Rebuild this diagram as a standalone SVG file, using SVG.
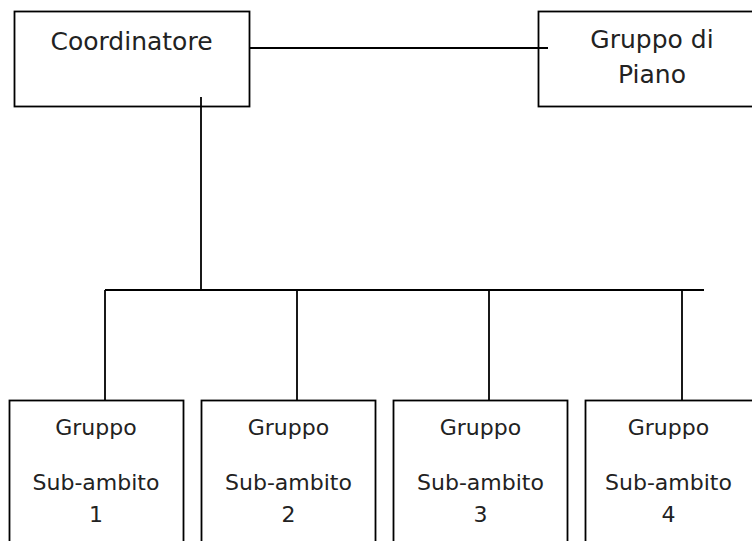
<svg xmlns="http://www.w3.org/2000/svg" width="752" height="541" viewBox="0 0 752 541">
<style>
.box{fill:#fff;stroke:#000;stroke-width:1.8}
.ln{fill:none;stroke:#000;stroke-width:1.8}
.t{font-family:"DejaVu Sans","Liberation Sans",sans-serif;fill:#222;text-anchor:middle}
.big{font-size:25px}
.sm{font-size:22px}
</style>
<rect width="752" height="541" fill="#fff"/>
<g id="coordinatore">
<rect class="box" x="14.5" y="11.5" width="235" height="95"/>
<text class="t big" x="131.5" y="50">Coordinatore</text>
</g>
<g id="gruppo-di-piano">
<rect class="box" x="538.5" y="11.5" width="220" height="95"/>
<text class="t big" x="652" y="48">Gruppo di</text>
<text class="t big" x="652" y="83">Piano</text>
</g>
<g id="sub1">
<rect class="box" x="9.5" y="400.5" width="174" height="160"/>
<text class="t sm" x="96" y="435">Gruppo</text>
<text class="t sm" x="96" y="490">Sub-ambito</text>
<text class="t sm" x="96" y="522">1</text>
</g>
<g id="sub2">
<rect class="box" x="201.5" y="400.5" width="174" height="160"/>
<text class="t sm" x="288.5" y="435">Gruppo</text>
<text class="t sm" x="288.5" y="490">Sub-ambito</text>
<text class="t sm" x="288.5" y="522">2</text>
</g>
<g id="sub3">
<rect class="box" x="393.5" y="400.5" width="174" height="160"/>
<text class="t sm" x="480.5" y="435">Gruppo</text>
<text class="t sm" x="480.5" y="490">Sub-ambito</text>
<text class="t sm" x="480.5" y="522">3</text>
</g>
<g id="sub4">
<rect class="box" x="585.5" y="400.5" width="180" height="160"/>
<text class="t sm" x="668.5" y="435">Gruppo</text>
<text class="t sm" x="668.5" y="490">Sub-ambito</text>
<text class="t sm" x="668.5" y="522">4</text>
</g>
<g id="connectors">
<line class="ln" x1="249" y1="48" x2="548" y2="48"/>
<line class="ln" x1="201" y1="97" x2="201" y2="290"/>
<line class="ln" x1="105" y1="290" x2="704" y2="290"/>
<line class="ln" x1="105" y1="290" x2="105" y2="401"/>
<line class="ln" x1="297" y1="290" x2="297" y2="401"/>
<line class="ln" x1="489" y1="290" x2="489" y2="401"/>
<line class="ln" x1="682" y1="290" x2="682" y2="401"/>
</g>
</svg>
